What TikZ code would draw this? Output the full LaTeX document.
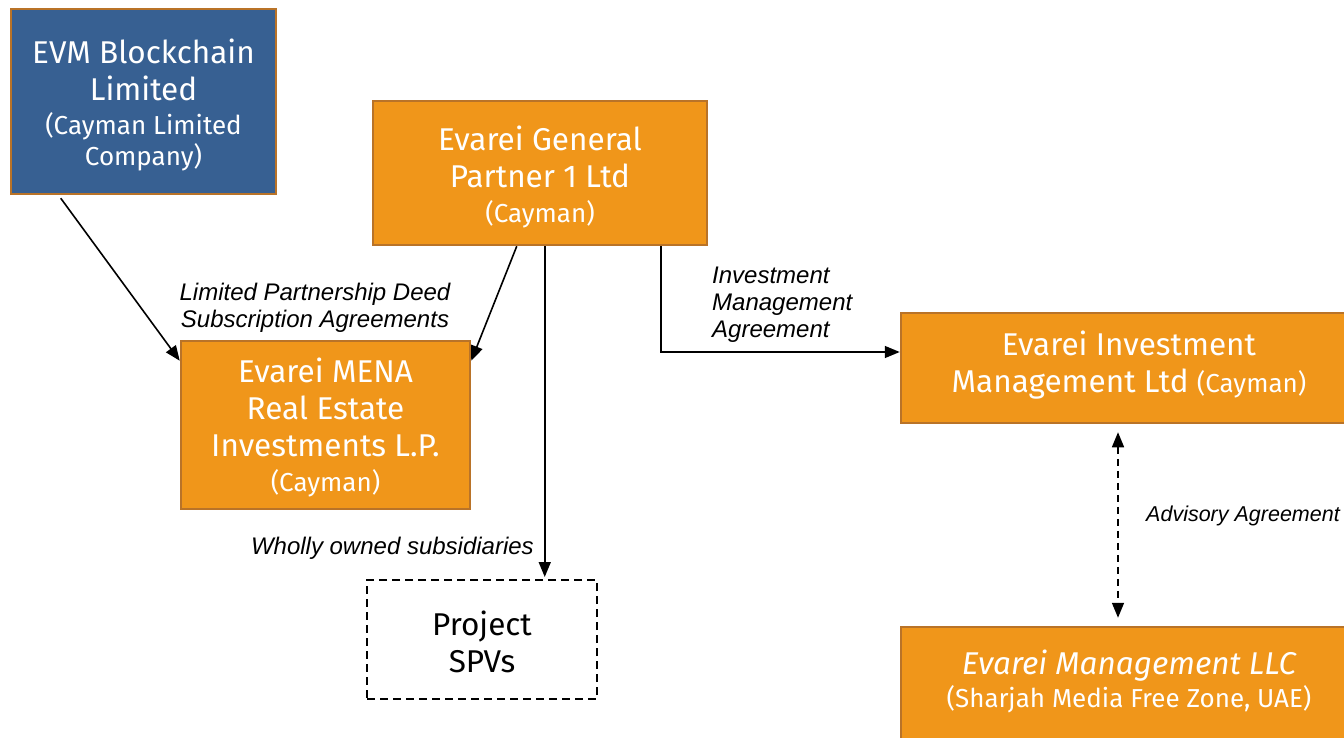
\documentclass[tikz,border=0pt]{standalone}
\usepackage{fontspec}
\setmainfont{Fira Sans}
\newfontfamily\lblfont{Liberation Sans}
\usetikzlibrary{arrows.meta}
\definecolor{boxorange}{RGB}{240,150,26}
\definecolor{boxblue}{RGB}{55,96,146}
\definecolor{boxedge}{RGB}{185,115,40}
\tikzset{
  entity/.style={draw=boxedge, line width=2.5pt, inner sep=0pt},
  orangebox/.style={entity, fill=boxorange},
  bluebox/.style={entity, fill=boxblue},
  boxtext/.style={text=white, align=center, inner sep=0pt, font=\fontsize{31.5}{37}\selectfont},
  spvbox/.style={draw=black, line width=2pt, dash pattern=on 8pt off 5pt, inner sep=0pt},
  lbl/.style={font=\lblfont\itshape\fontsize{24}{27}\selectfont, inner sep=0pt},
  arr/.style={line width=1.6pt, -{Triangle[length=15pt,width=12pt]}},
  darr/.style={line width=1.6pt, dashed, dash pattern=on 7pt off 5pt, {Triangle[length=15pt,width=12pt]}-{Triangle[length=15pt,width=12pt]}}
}
\newcommand{\smalltxt}[1]{{\fontsize{26}{35}\selectfont #1}}
\begin{document}
\begin{tikzpicture}[x=1pt,y=-1pt]
\useasboundingbox (0,0) rectangle (1344,738);
\clip (0,0) rectangle (1344,738);
% boxes
\node[bluebox, minimum width=265pt, minimum height=185pt] (evm) at (143.5,101.5) {};
\node[orangebox, minimum width=334pt, minimum height=144pt] (gp) at (540,173) {};
\node[orangebox, minimum width=289pt, minimum height=168pt] (mena) at (325.5,425) {};
\node[orangebox, minimum width=456pt, minimum height=110pt] (eim) at (1129,368) {};
\node[orangebox, minimum width=456pt, minimum height=130pt] (em) at (1129,692) {};
\node[spvbox, minimum width=230pt, minimum height=119pt] (spv) at (482,639.5) {};
% box texts
\node[boxtext] (evmtext) at (143.5,104.5)
  {EVM Blockchain\\Limited\\[-3pt]\smalltxt{(Cayman Limited}\\[-6pt]\smalltxt{Company)}};
\node[boxtext] (gptext) at (540,177)
  {Evarei General\\Partner 1 Ltd\\[-2pt]\smalltxt{(Cayman)}};
\node[boxtext] (menatext) at (325.5,427.5)
  {Evarei MENA\\Real Estate\\Investments L.P.\\[-2pt]\smalltxt{(Cayman)}};
\node[boxtext] (eimtext) at (1129,365)
  {Evarei Investment\\Management Ltd \smalltxt{(Cayman)}};
\node[boxtext] (emtext) at (1129,681)
  {\itshape Evarei Management LLC\\[-4pt]\smalltxt{(Sharjah Media Free Zone, UAE)}};
\node[boxtext, text=black] (spvtext) at (482,642) {Project\\SPVs};
% labels
\node[lbl, align=center] (lpd) at (315,307.5) {Limited Partnership Deed\\Subscription Agreements};
\node[lbl, align=left, anchor=west] (ima) at (712,305) {Investment\\Management\\Agreement};
\node[lbl, anchor=west, font=\lblfont\itshape\fontsize{21.5}{27}\selectfont] (adv) at (1146,516) {Advisory Agreement};
\node[lbl, anchor=east] (wos) at (534,548) {Wholly owned subsidiaries};
% connectors
\draw[arr] ([xshift=51pt,yshift=-3pt]evm.south west) -- ([yshift=-21pt]mena.north west);
\draw[arr] ([xshift=145pt]gp.south west) -- ([yshift=-21pt]mena.north east);
\coordinate (gpspv) at ([xshift=173pt]gp.south west);
\draw[arr] (gpspv) -- ([yshift=2pt]gpspv |- spv.north);
\draw[arr] ([xshift=289pt]gp.south west) |- ([yshift=16pt]eim.west);
\draw[darr] ([xshift=-11pt,yshift=-8pt]eim.south) -- ([xshift=-11pt,yshift=8pt]em.north);
\end{tikzpicture}
\end{document}
